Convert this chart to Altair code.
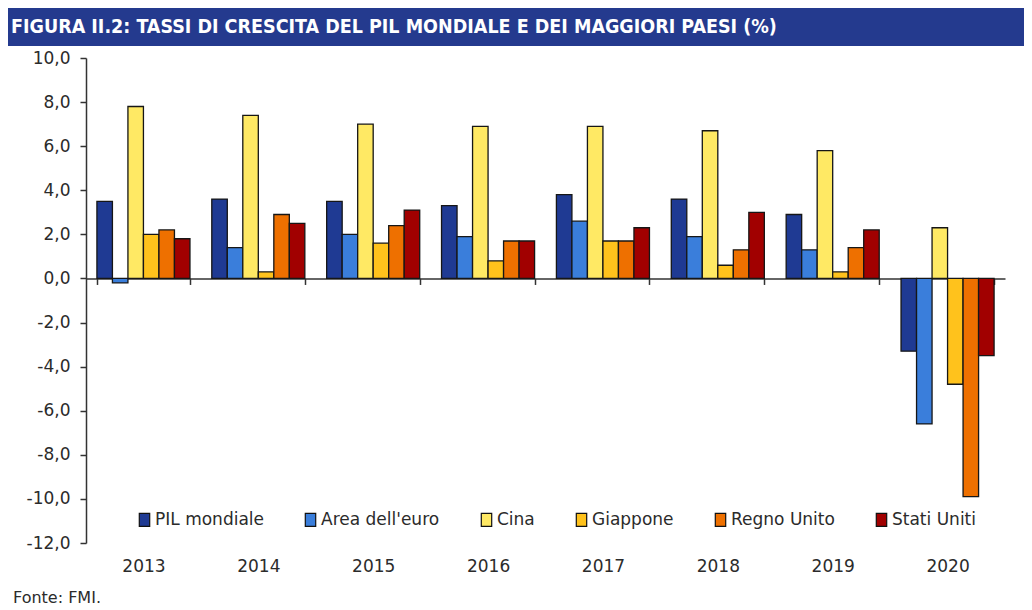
import altair as alt
import pandas as pd

years = ["2013", "2014", "2015", "2016", "2017", "2018", "2019", "2020"]
series = ["PIL mondiale", "Area dell'euro", "Cina", "Giappone", "Regno Unito", "Stati Uniti"]
pil_mondiale = [3.5, 3.6, 3.5, 3.3, 3.8, 3.6, 2.9, -3.3]
area_euro = [-0.2, 1.4, 2.0, 1.9, 2.6, 1.9, 1.3, -6.6]
cina = [7.8, 7.4, 7.0, 6.9, 6.9, 6.7, 5.8, 2.3]
giappone = [2.0, 0.3, 1.6, 0.8, 1.7, 0.6, 0.3, -4.8]
regno_unito = [2.2, 2.9, 2.4, 1.7, 1.7, 1.3, 1.4, -9.9]
stati_uniti = [1.8, 2.5, 3.1, 1.7, 2.3, 3.0, 2.2, -3.5]
colors = ["#1f3a93", "#3a7edb", "#ffe964", "#ffc21c", "#ee7000", "#a10000"]
y_ticks = [-12, -10, -8, -6, -4, -2, 0, 2, 4, 6, 8, 10]
title_text = "FIGURA II.2: TASSI DI CRESCITA DEL PIL MONDIALE E DEI MAGGIORI PAESI (%)"
source_text = "Fonte: FMI."

values = [pil_mondiale, area_euro, cina, giappone, regno_unito, stati_uniti]
rows = []
for s, vals in zip(series, values):
    for y, v in zip(years, vals):
        rows.append({"Anno": y, "Serie": s, "Valore": v})
df = pd.DataFrame(rows)

W, H = 919, 485
y_min, y_max = y_ticks[0], y_ticks[-1]
below_zero = H * (0 - y_min) / (y_max - y_min)
FONT = "DejaVu Sans"
TXT = "#2b2b2b"

bars = alt.Chart(df).mark_bar(stroke="#161616", strokeWidth=1.3).encode(
    x=alt.X("Anno:N", sort=years,
            scale=alt.Scale(paddingInner=0.19, paddingOuter=0.095),
            axis=alt.Axis(title=None, orient="bottom", offset=-below_zero,
                          tickBand="extent", domainColor="#333333", domainWidth=1.5,
                          tickColor="#333333", tickWidth=1.5, tickSize=6,
                          labelPadding=below_zero + 15 - 6, labelAngle=0,
                          labelFont=FONT, labelFontSize=17, labelColor=TXT, grid=False)),
    xOffset=alt.XOffset("Serie:N", sort=series,
                        scale=alt.Scale(paddingInner=0, paddingOuter=0)),
    y=alt.Y("Valore:Q", scale=alt.Scale(domain=[y_min, y_max], nice=False, zero=False),
            axis=alt.Axis(title=None, values=y_ticks, grid=False,
                          labelExpr="replace(replace(format(datum.value, '.1f'), '.', ','), '\u2212', '-')",
                          domainColor="#333333", domainWidth=1.5, tickColor="#333333",
                          tickWidth=1.5, tickSize=6, labelPadding=10,
                          labelFont=FONT, labelFontSize=17, labelColor=TXT)),
    color=alt.Color("Serie:N", sort=series,
                    scale=alt.Scale(domain=series, range=colors),
                    legend=alt.Legend(title=None, orient="none", legendX=50, legendY=453,
                                      direction="horizontal",
                                      symbolType="M-0.8,-1H0.8V1H-0.8Z",
                                      symbolSize=169, symbolStrokeColor="#111111",
                                      symbolStrokeWidth=1.2, symbolOpacity=1,
                                      labelFont=FONT, labelFontSize=17, labelColor=TXT,
                                      labelOffset=2, columnPadding=38)),
)

banner_df = pd.DataFrame({"t": [title_text]})
banner = alt.Chart(banner_df).mark_rect(color="#243a8e").encode(
    x=alt.value(-78), x2=alt.value(W + 19), y=alt.value(-50), y2=alt.value(-12)
)
banner_text = alt.Chart(banner_df).mark_text(
    align="left", baseline="middle",
    font="DejaVu Sans Condensed, Liberation Sans", fontWeight="bold",
    fontSize=19.5, color="white"
).encode(x=alt.value(-75), y=alt.value(-31), text="t:N")

source = alt.Chart(pd.DataFrame({"t": [source_text]})).mark_text(
    align="left", baseline="middle", font=FONT, fontSize=16, color=TXT
).encode(x=alt.value(-73), y=alt.value(H + 55), text="t:N")

chart = alt.layer(banner, banner_text, bars, source).properties(
    width=W, height=H, padding=0
).configure_view(stroke=None)

chart.save("out.html", embed_options={"renderer": "svg", "actions": False})
